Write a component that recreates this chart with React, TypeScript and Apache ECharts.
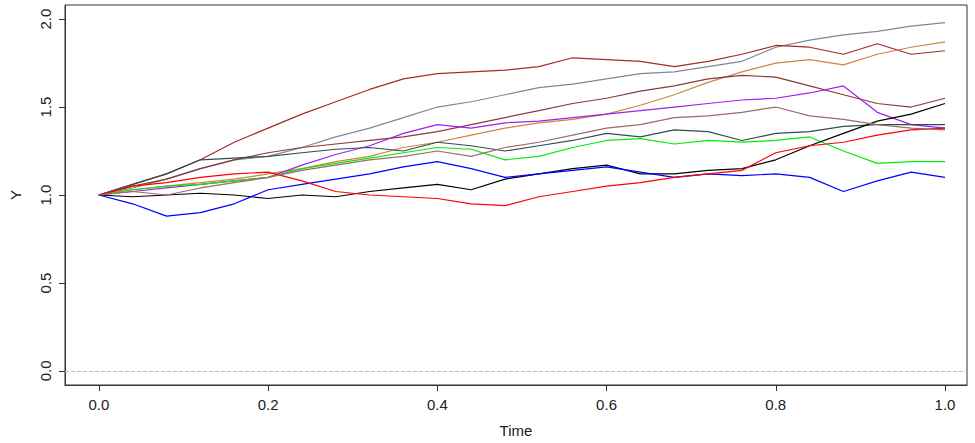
import React, { useEffect, useRef } from "react";
import * as echarts from "echarts";

// time grid, step 0.04
const times = [0, 0.04, 0.08, 0.12, 0.16, 0.2, 0.24, 0.28, 0.32, 0.36, 0.4, 0.44, 0.48, 0.52, 0.56, 0.6, 0.64, 0.68, 0.72, 0.76, 0.8, 0.84, 0.88, 0.92, 0.96, 1.0];

const slateGray = [1.0, 1.04, 1.09, 1.15, 1.2, 1.22, 1.27, 1.33, 1.38, 1.44, 1.5, 1.53, 1.57, 1.61, 1.63, 1.66, 1.69, 1.7, 1.73, 1.76, 1.84, 1.88, 1.91, 1.93, 1.96, 1.98];
const darkRed = [1.0, 1.06, 1.12, 1.2, 1.3, 1.38, 1.46, 1.53, 1.6, 1.66, 1.69, 1.7, 1.71, 1.73, 1.78, 1.77, 1.76, 1.73, 1.76, 1.8, 1.85, 1.84, 1.8, 1.86, 1.8, 1.82];
const peru = [1.0, 1.03, 1.05, 1.07, 1.09, 1.12, 1.15, 1.19, 1.22, 1.27, 1.3, 1.34, 1.38, 1.41, 1.43, 1.46, 1.51, 1.57, 1.64, 1.7, 1.75, 1.77, 1.74, 1.8, 1.84, 1.87];
const sienna = [1.0, 1.05, 1.09, 1.15, 1.2, 1.24, 1.27, 1.29, 1.31, 1.33, 1.36, 1.4, 1.44, 1.48, 1.52, 1.55, 1.59, 1.62, 1.66, 1.68, 1.67, 1.62, 1.57, 1.52, 1.5, 1.55];
const purple = [1.0, 1.02, 1.04, 1.06, 1.08, 1.1, 1.17, 1.23, 1.28, 1.35, 1.4, 1.38, 1.41, 1.42, 1.44, 1.46, 1.48, 1.5, 1.52, 1.54, 1.55, 1.58, 1.62, 1.47, 1.4, 1.38];
const darkSlate = [1.0, 1.06, 1.12, 1.2, 1.21, 1.22, 1.24, 1.26, 1.27, 1.25, 1.3, 1.28, 1.25, 1.28, 1.31, 1.35, 1.33, 1.37, 1.36, 1.31, 1.35, 1.36, 1.39, 1.4, 1.4, 1.4];
const green = [1.0, 1.03, 1.05, 1.06, 1.08, 1.1, 1.15, 1.18, 1.21, 1.24, 1.27, 1.26, 1.2, 1.22, 1.27, 1.31, 1.32, 1.29, 1.31, 1.3, 1.31, 1.33, 1.25, 1.18, 1.19, 1.19];
const black = [1.0, 0.99, 1.0, 1.01, 1.0, 0.98, 1.0, 0.99, 1.02, 1.04, 1.06, 1.03, 1.09, 1.12, 1.15, 1.17, 1.12, 1.12, 1.14, 1.15, 1.2, 1.28, 1.35, 1.42, 1.46, 1.52];
const blue = [1.0, 0.95, 0.88, 0.9, 0.95, 1.03, 1.06, 1.09, 1.12, 1.16, 1.19, 1.15, 1.1, 1.12, 1.14, 1.16, 1.13, 1.1, 1.12, 1.11, 1.12, 1.1, 1.02, 1.08, 1.13, 1.1];
const red = [1.0, 1.05, 1.07, 1.1, 1.12, 1.13, 1.08, 1.02, 1.0, 0.99, 0.98, 0.95, 0.94, 0.99, 1.02, 1.05, 1.07, 1.1, 1.12, 1.14, 1.24, 1.28, 1.3, 1.34, 1.37, 1.38];
const rosyBrown = [1.0, 1.02, 1.0, 1.04, 1.07, 1.1, 1.14, 1.17, 1.2, 1.22, 1.25, 1.22, 1.27, 1.3, 1.34, 1.38, 1.4, 1.44, 1.45, 1.47, 1.5, 1.45, 1.43, 1.4, 1.38, 1.37];

const paths: [string, string, number[]][] = [
  ["slategray", "#7f8896", slateGray],
  ["darkred", "#a52a2a", darkRed],
  ["peru", "#cd853f", peru],
  ["sienna", "#8b3a3a", sienna],
  ["purple", "#a020f0", purple],
  ["darkslategray", "#2f4f4f", darkSlate],
  ["green", "#00ee00", green],
  ["black", "#000000", black],
  ["blue", "#0000ff", blue],
  ["red", "#ff0000", red],
  ["rosybrown", "#9c6b6b", rosyBrown],
];

const xTicks = [0, 0.2, 0.4, 0.6, 0.8, 1.0];
const yTicks = [0, 0.5, 1.0, 1.5, 2.0];

const App: React.FC = () => {
  const chartRef = useRef<HTMLDivElement>(null);

  useEffect(() => {
    document.body.style.margin = "0";
    if (!chartRef.current) return undefined;
    const chart = echarts.init(chartRef.current, undefined, { renderer: "svg" });
    const font = "Liberation Sans, Arial, sans-serif";
    chart.setOption({
      animation: false,
      grid: { left: 57, right: 8, top: 5, bottom: 57, show: true, borderColor: "#333", borderWidth: 1 },
      xAxis: {
        type: "value",
        min: -0.04,
        max: 1.026,
        name: "Time",
        nameLocation: "middle",
        nameGap: 38,
        nameTextStyle: { fontSize: 15, color: "#222", fontFamily: font },
        axisLine: { show: true, onZero: false, lineStyle: { color: "#333" } },
        splitLine: { show: false },
        axisTick: { show: true, customValues: xTicks, length: 6, lineStyle: { color: "#333" } },
        axisLabel: { customValues: xTicks, fontSize: 15, color: "#222", fontFamily: font, margin: 12, formatter: (v: number) => v.toFixed(1) },
      },
      yAxis: {
        type: "value",
        min: -0.08,
        max: 2.08,
        name: "Y",
        nameLocation: "middle",
        nameGap: 42,
        nameTextStyle: { fontSize: 15, color: "#222", fontFamily: font },
        axisLine: { show: true, onZero: false, lineStyle: { color: "#333" } },
        splitLine: { show: false },
        axisTick: { show: true, customValues: yTicks, length: 6, lineStyle: { color: "#333" } },
        axisLabel: { customValues: yTicks, fontSize: 15, color: "#222", fontFamily: font, rotate: 90, margin: 12, formatter: (v: number) => v.toFixed(1) },
      },
      series: paths.map(([name, color, ys], i) => ({
        name,
        type: "line",
        showSymbol: false,
        symbol: "none",
        lineStyle: { color, width: 1.2 },
        data: ys.map((y, j) => [times[j], y]),
        markLine: i === 0 ? {
          silent: true,
          symbol: "none",
          label: { show: false },
          lineStyle: { color: "#bbbbbb", type: "dashed", width: 1 },
          data: [{ yAxis: 0 }],
        } : undefined,
      })),
    });
    return () => chart.dispose();
  }, []);

  return <div ref={chartRef} style={{ width: 975, height: 443 }} />;
};

export default App;
